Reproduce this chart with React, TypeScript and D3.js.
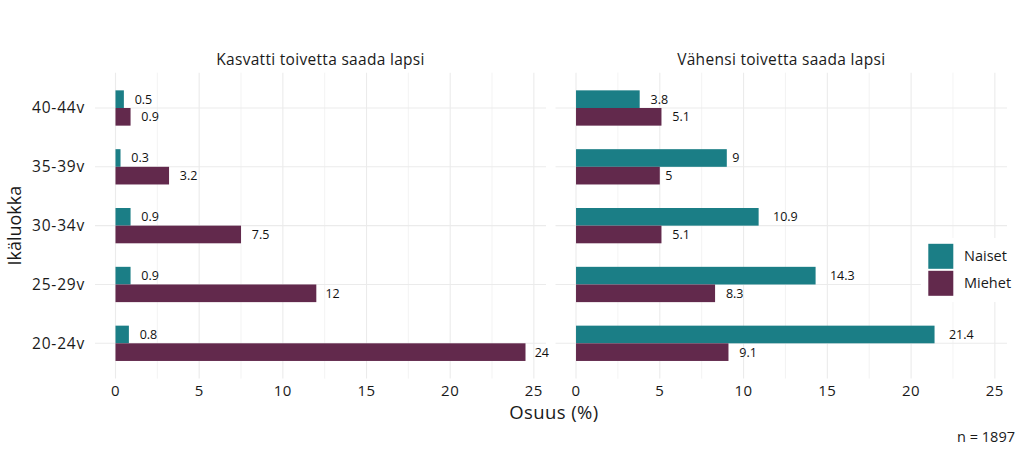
import React from "react";
import * as d3 from "d3";

const categories = ["20-24v", "25-29v", "30-34v", "35-39v", "40-44v"];
const panels = ["Kasvatti toivetta saada lapsi", "Vähensi toivetta saada lapsi"];
const seriesNames = ["Naiset", "Miehet"];
const colors = ["#1b7e86", "#62294c"];

const kasvattiNaiset = [0.8, 0.9, 0.9, 0.3, 0.5];
const kasvattiMiehet = [24.5, 12, 7.5, 3.2, 0.9];
const vahensiNaiset = [21.4, 14.3, 10.9, 9, 3.8];
const vahensiMiehet = [9.1, 8.3, 5.1, 5, 5.1];

const kasvattiNaisetLabels = ["0.8", "0.9", "0.9", "0.3", "0.5"];
const kasvattiMiehetLabels = ["24", "12", "7.5", "3.2", "0.9"];
const vahensiNaisetLabels = ["21.4", "14.3", "10.9", "9", "3.8"];
const vahensiMiehetLabels = ["9.1", "8.3", "5.1", "5", "5.1"];

const xTicks = [0, 5, 10, 15, 20, 25];
const xMinor = [2.5, 7.5, 12.5, 17.5, 22.5];

const FONT = "'Open Sans', sans-serif";

function textWidth(s: string, size: number) {
  let w = 0;
  for (const c of s) w += c === "." ? 0.27 : 0.57;
  return w * size;
}

export default function App() {
  const W = 1024, H = 455;
  const domain: [number, number] = [-1.225, 25.725];
  const panelRanges: [number, number][] = [[95, 546], [555.5, 1007]];
  const y = d3.scaleLinear().domain([-0.6, 4.6]).range([378.6, 72.7]);
  const data = [
    [kasvattiNaiset, kasvattiMiehet, kasvattiNaisetLabels, kasvattiMiehetLabels],
    [vahensiNaiset, vahensiMiehet, vahensiNaisetLabels, vahensiMiehetLabels],
  ] as [number[], number[], string[], string[]][];
  const barW = 0.3;
  const labelSize = 12.5;

  return (
    <div style={{ position: "absolute", left: 0, top: 0 }}>
      <svg width={W} height={H} style={{ display: "block", background: "#fff" }}>
        {panelRanges.map((rng, p) => {
          const x = d3.scaleLinear().domain(domain).range(rng);
          const [nv, mv, nl, ml] = data[p];
          return (
            <g key={p}>
              {xMinor.map((t) => (
                <line key={"m" + t} x1={x(t)} x2={x(t)} y1={y(-0.6)} y2={y(4.6)} stroke="#ebebeb" strokeWidth={0.6} />
              ))}
              {xTicks.map((t) => (
                <line key={"M" + t} x1={x(t)} x2={x(t)} y1={y(-0.6)} y2={y(4.6)} stroke="#ebebeb" strokeWidth={1.1} />
              ))}
              {categories.map((c, i) => (
                <line key={"h" + c} x1={rng[0]} x2={rng[1]} y1={y(i)} y2={y(i)} stroke="#ebebeb" strokeWidth={1.1} />
              ))}
              {categories.map((c, i) => (
                <g key={"b" + c}>
                  <rect x={x(0)} y={y(i + barW)} width={x(nv[i]) - x(0)} height={y(i) - y(i + barW)} fill={colors[0]} />
                  <rect x={x(0)} y={y(i)} width={x(mv[i]) - x(0)} height={y(i - barW) - y(i)} fill={colors[1]} />
                  <text x={x(nv[i]) + textWidth(nl[i], labelSize) * 0.5 + 2} y={y(i + barW / 2)} dy="0.35em"
                    fontFamily={FONT} fontSize={labelSize} fill="#111">{nl[i]}</text>
                  <text x={x(mv[i]) + textWidth(ml[i], labelSize) * 0.5 + 2} y={y(i - barW / 2)} dy="0.35em"
                    fontFamily={FONT} fontSize={labelSize} fill="#111">{ml[i]}</text>
                </g>
              ))}
              <text x={(rng[0] + rng[1]) / 2} y={60} dy="0.35em" textAnchor="middle" fontFamily={FONT} fontSize={15.5}
                letterSpacing={0.3} fill="#1a1a1a">
                {panels[p]}
              </text>
              {xTicks.map((t) => (
                <text key={"t" + t} x={x(t)} y={391} dy="0.35em" textAnchor="middle" fontFamily={FONT} fontSize={15}
                  letterSpacing={0.5} fill="#1a1a1a">
                  {t}
                </text>
              ))}
            </g>
          );
        })}
        {categories.map((c, i) => (
          <text key={"y" + c} x={85} y={y(i)} dy="0.35em" textAnchor="end" fontFamily={FONT} fontSize={15.5}
            letterSpacing={0.8} fill="#1a1a1a">
            {c}
          </text>
        ))}
        <text x={554} y={413} dy="0.35em" textAnchor="middle" fontFamily={FONT} fontSize={18.5} letterSpacing={0.4} fill="#1a1a1a">Osuus (%)</text>
        <text transform={`translate(15,${(y(-0.6) + y(4.6)) / 2}) rotate(-90)`} dy="0.35em" textAnchor="middle" fontFamily={FONT} fontSize={18} fill="#1a1a1a">
          Ikäluokka
        </text>
        <rect x={921} y={238} width={95} height={64} fill="#fff" />
        {seriesNames.map((s, i) => (
          <g key={s}>
            <rect x={928.3} y={243.8 + i * 27} width={25} height={25} fill={colors[i]} />
            <text x={964} y={256.3 + i * 27} dy="0.35em" fontFamily={FONT} fontSize={14.5} fill="#1a1a1a">{s}</text>
          </g>
        ))}
        <text x={1015} y={437} dy="0.35em" textAnchor="end" fontFamily={FONT} fontSize={14.5} fill="#1a1a1a">n = 1897</text>
      </svg>
    </div>
  );
}
